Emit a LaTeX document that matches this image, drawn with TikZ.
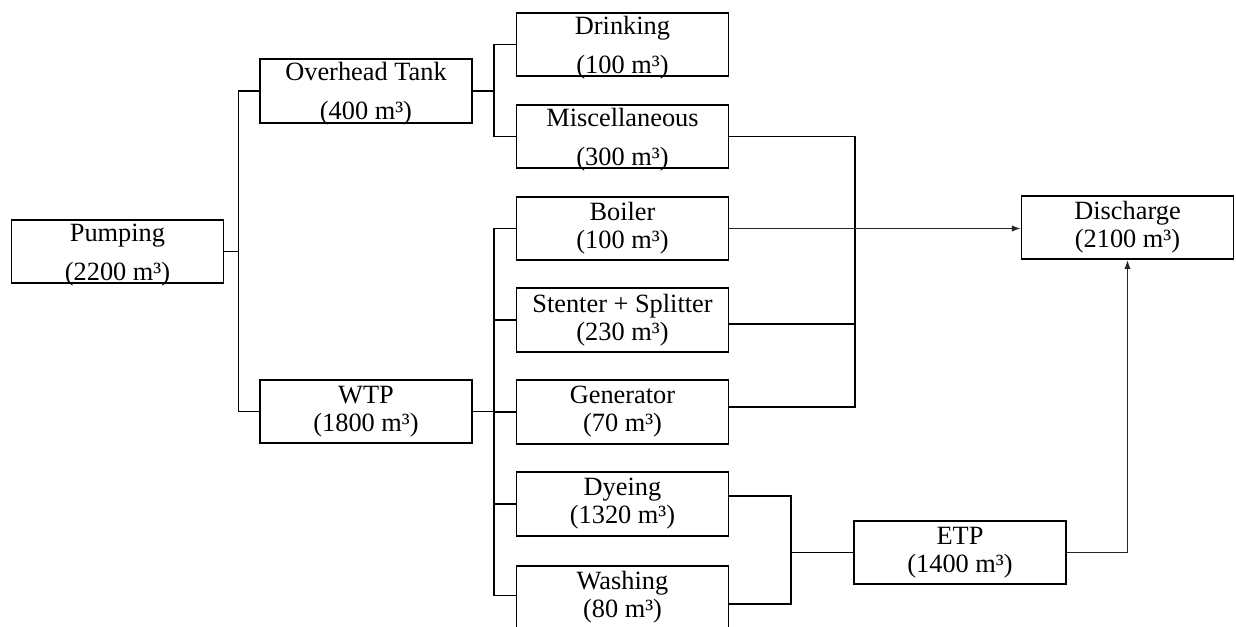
\documentclass[tikz,border=0pt]{standalone}
\usepackage{fontspec}
\setmainfont{Liberation Serif}
\usetikzlibrary{arrows.meta,positioning,calc}

\begin{document}
\begin{tikzpicture}[x=0.02cm, y=-0.02cm,
  flowbox/.style={draw=black, line width=1pt, minimum width=4.24cm, minimum height=1.27cm, align=center, inner sep=0pt},
  loose/.style={font=\fontsize{15}{22}\selectfont, text height=32.6pt, text depth=0pt},
  tight/.style={font=\fontsize{15}{16}\selectfont},
  link/.style={line width=0.9pt},
  flow/.style={line width=0.7pt, draw=black!85, -{Latex[length=5pt,width=3.6pt]}}]
  \useasboundingbox (0,0) rectangle (1236,626);

  \node[flowbox, loose] (pump) at (117.5,251.5) {Pumping\\(2200 m³)};
  \node[flowbox, loose] (ot) at (366,91) {Overhead Tank\\(400 m³)};
  \node[flowbox, tight] (wtp) at (366,411.5) {WTP\\(1800 m³)};

  \node[flowbox, loose] (drink) at (622.5,44.5) {Drinking\\(100 m³)};
  \node[flowbox, loose] (misc) at (622.5,136.5) {Miscellaneous\\(300 m³)};
  \node[flowbox, tight] (boil) at (622.5,228.5) {Boiler\\(100 m³)};
  \node[flowbox, tight] (sten) at (622.5,320) {Stenter + Splitter\\(230 m³)};
  \node[flowbox, tight] (gen) at (622.5,412) {Generator\\(70 m³)};
  \node[flowbox, tight] (dye) at (622.5,504) {Dyeing\\(1320 m³)};
  \node[flowbox, tight] (wash) at (622.5,597.5) {Washing\\(80 m³)};

  \node[flowbox, tight] (etp) at (960,552.5) {ETP\\(1400 m³)};
  \node[flowbox, tight] (dis) at (1127.5,227.5) {Discharge\\(2100 m³)};

  \draw[link] (pump.east) -- ++(14,0) |- (ot.west);
  \draw[link] (pump.east) -- ++(14,0) |- (wtp.west);
  \draw[link] (ot.east) -- ++(21,0) |- (drink.west);
  \draw[link] (ot.east) -- ++(21,0) |- (misc.west);
  \foreach \n in {boil,sten,gen,dye}
    \draw[link] (wtp.east) -- ++(21,0) |- (\n.west);
  \draw[link] (wtp.east) -- ++(21,0) |- ([yshift=1.1pt]wash.west);

  \coordinate (mcol) at (855,0);
  \coordinate (stout) at ([yshift=-2.3pt]sten.east);
  \coordinate (genout) at ([yshift=2.8pt]gen.east);
  \draw[link] (misc.east) -| (mcol |- genout) -- (genout);
  \draw[link] (stout) -- (mcol |- stout);

  \coordinate (ecol) at (791,0);
  \coordinate (dyout) at ([yshift=4.5pt]dye.east);
  \coordinate (waout) at ([yshift=-3.7pt]wash.east);
  \draw[link] (dyout) -| (ecol |- waout) -- (waout);
  \draw[link] (ecol |- etp.west) -- (etp.west);

  \draw[flow] (boil.east) -- (boil.east -| dis.west);
  \draw[flow] (etp.east) -| (dis.south);
\end{tikzpicture}
\end{document}
